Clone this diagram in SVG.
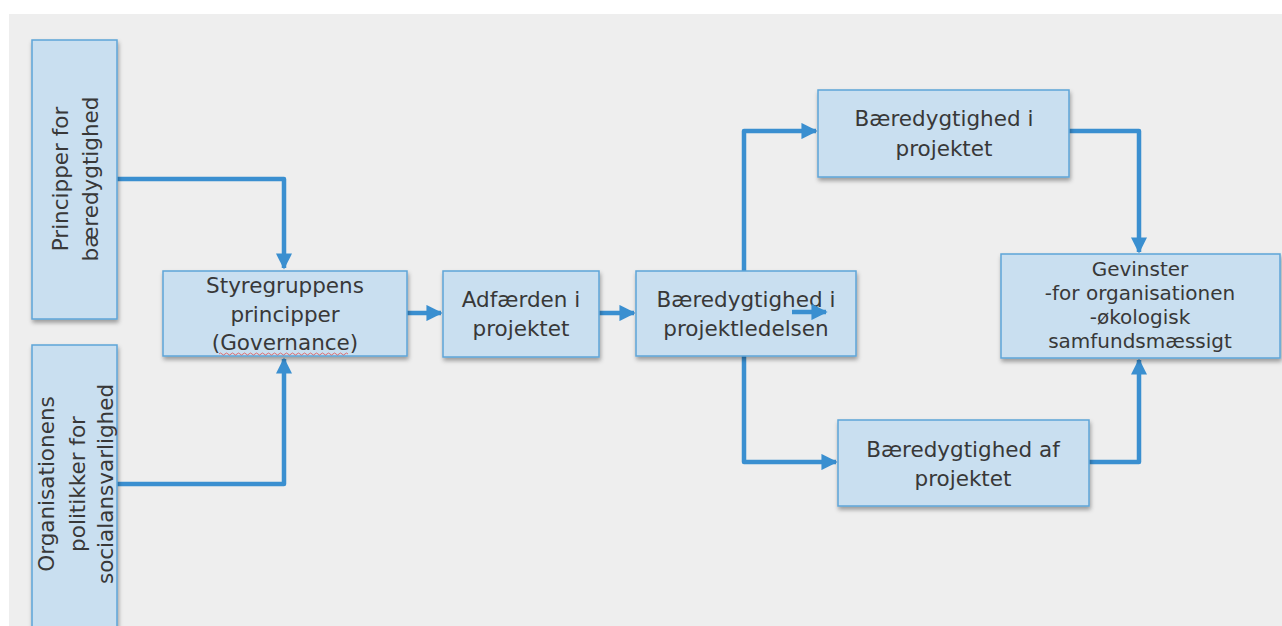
<svg xmlns="http://www.w3.org/2000/svg" width="1282" height="626" viewBox="0 0 1282 626">
<style>
.box{fill:#c9dff0;stroke:#5ea5d8;stroke-width:1.5;filter:url(#sh)}
.t{font-family:"DejaVu Sans",sans-serif;font-size:21.5px;fill:#383838;text-anchor:middle;dominant-baseline:central}
.s{font-size:20px}
.c{fill:none;stroke:#3a8fd0;stroke-width:4.5;stroke-linejoin:round}
</style>
<defs>
<filter id="sh" x="-10%" y="-10%" width="120%" height="130%">
<feDropShadow dx="1" dy="3" stdDeviation="2" flood-color="#000" flood-opacity="0.35"/>
</filter>
<marker id="ah" viewBox="0 0 10 10" refX="9" refY="5" markerWidth="3.6" markerHeight="3.6" orient="auto" markerUnits="strokeWidth">
<path d="M0,0 L10,5 L0,10 Z" fill="#3a8fd0"/>
</marker>
</defs>
<rect x="0" y="0" width="1282" height="626" fill="#ffffff"/>
<rect x="9" y="14" width="1273" height="612" fill="#eeeeee"/>

<g id="connectors">
<path class="c" d="M117,179 H284 V268" marker-end="url(#ah)"/>
<path class="c" d="M117,484 H284 V359" marker-end="url(#ah)"/>
<path class="c" d="M407,313 H441" marker-end="url(#ah)"/>
<path class="c" d="M599,313 H634" marker-end="url(#ah)"/>
<path class="c" d="M744,271 V131 H816" marker-end="url(#ah)"/>
<path class="c" d="M744,356 V462 H836" marker-end="url(#ah)"/>
<path class="c" d="M1069,131 H1139 V252" marker-end="url(#ah)"/>
<path class="c" d="M1089,462 H1139 V360" marker-end="url(#ah)"/>
</g>

<g id="n1">
<rect class="box" x="32" y="40" width="85" height="279"/>
<text class="t" transform="translate(60,179) rotate(-90)">Principper for</text>
<text class="t" transform="translate(90,179) rotate(-90)">bæredygtighed</text>
</g>
<g id="n2">
<rect class="box" x="32" y="345" width="85" height="290"/>
<text class="t" transform="translate(46,484) rotate(-90)">Organisationens</text>
<text class="t" transform="translate(77,484) rotate(-90)">politikker for</text>
<text class="t" transform="translate(105,484) rotate(-90)">socialansvarlighed</text>
</g>
<g id="n3">
<rect class="box" x="163" y="271" width="244" height="85"/>
<text class="t" x="285" y="285">Styregruppens</text>
<text class="t" x="285" y="314">principper</text>
<text class="t" x="285" y="342">(Governance)</text>
<path d="M219,354 q1.5,-2 3,0 t3,0 t3,0 t3,0 t3,0 t3,0 t3,0 t3,0 t3,0 t3,0 t3,0 t3,0 t3,0 t3,0 t3,0 t3,0 t3,0 t3,0 t3,0 t3,0 t3,0 t3,0 t3,0 t3,0 t3,0 t3,0 t3,0 t3,0 t3,0 t3,0 t3,0 t3,0 t3,0 t3,0 t3,0 t3,0 t3,0 t3,0 t3,0 t3,0 t3,0 t3,0 t3,0" fill="none" stroke="#e05050" stroke-width="0.8"/>
</g>
<g id="n4">
<rect class="box" x="443" y="271" width="156" height="86"/>
<text class="t" x="521" y="299">Adfærden i</text>
<text class="t" x="521" y="328">projektet</text>
</g>
<g id="n5">
<rect class="box" x="636" y="271" width="220" height="85"/>
<text class="t" x="746" y="299">Bæredygtighed i</text>
<text class="t" x="746" y="328">projektledelsen</text>
<path class="c" d="M792,312 H826" marker-end="url(#ah)"/>
</g>
<g id="n6">
<rect class="box" x="818" y="90" width="251" height="87"/>
<text class="t" x="944" y="118">Bæredygtighed i</text>
<text class="t" x="944" y="148">projektet</text>
</g>
<g id="n7">
<rect class="box" x="1001" y="254" width="279" height="104"/>
<text class="t s" x="1140" y="269">Gevinster</text>
<text class="t s" x="1140" y="293">-for organisationen</text>
<text class="t s" x="1140" y="317">-økologisk</text>
<text class="t s" x="1140" y="341">samfundsmæssigt</text>
</g>
<g id="n8">
<rect class="box" x="838" y="420" width="251" height="86"/>
<text class="t" x="963" y="449">Bæredygtighed af</text>
<text class="t" x="963" y="478">projektet</text>
</g>
</svg>
